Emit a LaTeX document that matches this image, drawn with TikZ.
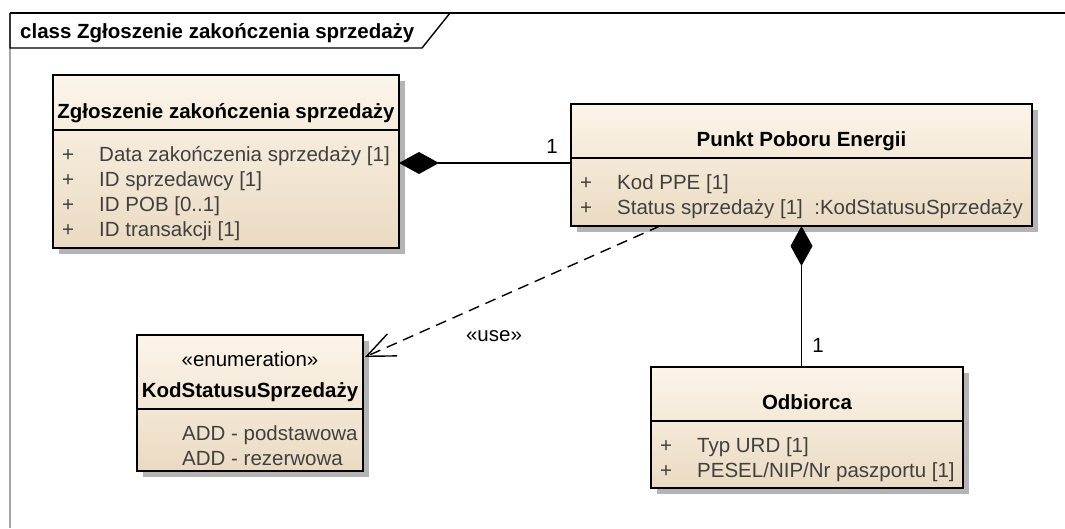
\documentclass[tikz,border=0pt]{standalone}
\usepackage{fontspec}
\setmainfont{Liberation Sans}
\usetikzlibrary{arrows.meta,calc,backgrounds}
\definecolor{boxtop}{RGB}{252,245,234}
\definecolor{boxbot}{RGB}{234,218,194}
\definecolor{attr}{RGB}{64,64,64}
\definecolor{shadowc}{RGB}{180,180,180}
\tikzset{
  classbox/.style={draw=black, line width=1.4pt, top color=boxtop, bottom color=boxbot,
    anchor=north west, inner sep=0pt, outer sep=0pt},
  sepline/.style={line width=1.4pt},
  ttl/.style={font=\fontsize{20.5}{24}\selectfont\bfseries, inner sep=0pt, anchor=base},
  att/.style={font=\fontsize{20.5}{24}\selectfont, text=attr, inner sep=0pt, anchor=base west},
  plain/.style={font=\fontsize{20.5}{24}\selectfont, inner sep=0pt, anchor=base},
  conn/.style={line width=1.4pt},
  comp/.style={conn, -{Diamond[length=40pt,width=22pt]}},
  usedep/.style={conn, dash pattern=on 11pt off 7pt, -{Straight Barb[length=28pt,width=24pt,line width=1.4pt]}},
  framet/.style={line width=1.4pt},
  framel/.style={line width=2pt, draw=gray!70},
}
\begin{document}
\begin{tikzpicture}[x=1pt,y=-1pt]
\useasboundingbox (0,0) rectangle (1065,528);
% frame
\coordinate (fTL) at (10,13);
\coordinate (fTR) at (1065,13);
\coordinate (fBL) at (10,528);
\coordinate (fLB) at (10,48);
\coordinate (fLM) at (422,48);
\coordinate (fLT) at (450,13);
\draw[framel] (fTL) -- (fBL);
\draw[framet] (fTL) -- (fTR);
\draw[framet] (fTL) -- (fLB) -- (fLM) -- (fLT);
\node[ttl, anchor=base west] (ftitle) at (20,38) {class Zgłoszenie zakończenia sprzedaży};

% class boxes
\node[classbox, minimum width=346pt, minimum height=173pt] (zg) at (53,75) {};
\node[classbox, minimum width=461pt, minimum height=122pt] (pp) at (571,104) {};
\node[classbox, minimum width=226pt, minimum height=136pt] (en) at (137,335) {};
\node[classbox, minimum width=312pt, minimum height=121pt] (od) at (651,367) {};

% shadows
\begin{scope}[on background layer]
  \foreach \b in {zg,pp,en,od}{
    \fill[shadowc] ($(\b.north west)+(6,6)$) rectangle ($(\b.south east)+(6,6)$);
  }
\end{scope}

% separators
\draw[sepline] ($(zg.north west)+(0,55)$) -- ($(zg.north east)+(0,55)$);
\draw[sepline] ($(pp.north west)+(0,54)$) -- ($(pp.north east)+(0,54)$);
\draw[sepline] ($(en.north west)+(0,74)$) -- ($(en.north east)+(0,74)$);
\draw[sepline] ($(od.north west)+(0,54)$) -- ($(od.north east)+(0,54)$);

% Zgłoszenie
\node[ttl] (zgT) at ($(zg.north)+(0,43)$) {Zgłoszenie zakończenia sprzedaży};
\node[att] (zgP1) at (62,161) {+};
\node[att] (zgA1) at (99,161) {Data zakończenia sprzedaży [1]};
\node[att] (zgP2) at (62,186) {+};
\node[att] (zgA2) at (99,186) {ID sprzedawcy [1]};
\node[att] (zgP3) at (62,211) {+};
\node[att] (zgA3) at (99,211) {ID POB [0..1]};
\node[att] (zgP4) at (62,236) {+};
\node[att] (zgA4) at (99,236) {ID transakcji [1]};

% Punkt Poboru Energii
\node[ttl] (ppT) at ($(pp.north)+(0,42)$) {Punkt Poboru Energii};
\node[att] (ppP1) at (580,189) {+};
\node[att] (ppA1) at (617,189) {Kod PPE [1]};
\node[att] (ppP2) at (580,214) {+};
\node[att] (ppA2) at (617,214) {Status sprzedaży [1]\ \ :KodStatusuSprzedaży};

% Enumeration
\node[plain] (enS) at ($(en.north)+(0,31)$) {«enumeration»};
\node[ttl] (enT) at ($(en.north)+(0,62)$) {KodStatusuSprzedaży};
\node[att] (enA1) at (182,440) {ADD - podstawowa};
\node[att] (enA2) at (182,465) {ADD - rezerwowa};

% Odbiorca
\node[ttl] (odT) at ($(od.north)+(0,42)$) {Odbiorca};
\node[att] (odP1) at (660,452) {+};
\node[att] (odA1) at (697,452) {Typ URD [1]};
\node[att] (odP2) at (660,477) {+};
\node[att] (odA2) at (697,477) {PESEL/NIP/Nr paszportu [1]};

% connectors
\coordinate (zgR) at ($(zg.north east)+(0,88)$);
\draw[comp] (pp.west |- zgR) -- (zgR);
\node[plain] (m1) at (552,153) {1};

\draw[comp] (od.north -| pp.south) -- (pp.south);
\node[plain] (m2) at (818,352) {1};

\coordinate (dStart) at ($(pp.south west)!0.193!(pp.south east)$);
\coordinate (dEnd) at ($(en.north east)+(2,22)$);
\draw[usedep] (dStart) -- (dEnd);
\node[plain] (useL) at (494,341) {«use»};
\end{tikzpicture}
\end{document}
